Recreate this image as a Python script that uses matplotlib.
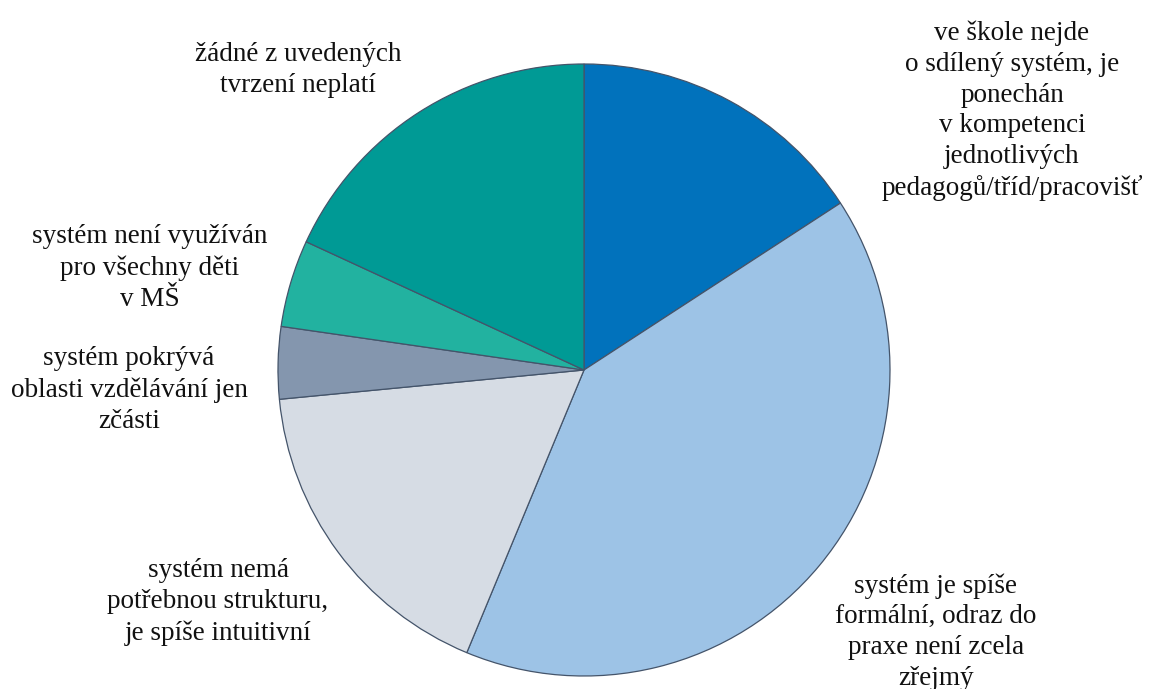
import matplotlib
matplotlib.use("Agg")
import matplotlib.pyplot as plt

# ── Data ──────────────────────────────────────────────────────────────────────
labels = [
    "ve škole nejde\no sdílený systém, je\nponechán\nv kompetenci\njednotlivých\npedagogů/tříd/pracovišť",
    "systém je spíše\nformální, odraz do\npraxe není zcela\nzřejmý",
    "systém nemá\npotřebnou strukturu,\nje spíše intuitivní",
    "systém pokrývá\noblasti vzdělávání jen\nzčásti",
    "systém není využíván\npro všechny děti\nv MŠ",
    "žádné z uvedených\ntvrzení neplatí",
]
values = [15.8, 40.4, 17.2, 3.8, 4.6, 18.1]
colors = ["#0172BC", "#9DC3E6", "#D6DCE4", "#8496AE", "#22B2A0", "#009A95"]

# label centres in pixels (x, y from top)
label_pos = [(1012, 111), (936, 632), (218, 602), (129, 390), (150, 268), (298, 70)]

W, H = 1153, 689
CX, CY, R = 584, 370, 306

plt.rcParams["font.family"] = ["Liberation Serif", "DejaVu Serif"]

fig = plt.figure(figsize=(W / 100, H / 100), dpi=100)
ax = fig.add_axes([(CX - R) / W, (H - CY - R) / H, 2 * R / W, 2 * R / H])
ax.pie(
    values,
    colors=colors,
    startangle=90,
    counterclock=False,
    radius=1.0,
    wedgeprops=dict(edgecolor="#44546A", linewidth=0.9),
)
ax.set_xlim(-1, 1)
ax.set_ylim(-1, 1)
ax.set_aspect("equal")
ax.axis("off")

for txt, (px, py) in zip(labels, label_pos):
    fig.text(px / W, 1 - py / H, txt, ha="center", va="center",
             multialignment="center", fontsize=19.5, color="#111111",
             linespacing=1.3)

fig.savefig("out.png", dpi=100)
